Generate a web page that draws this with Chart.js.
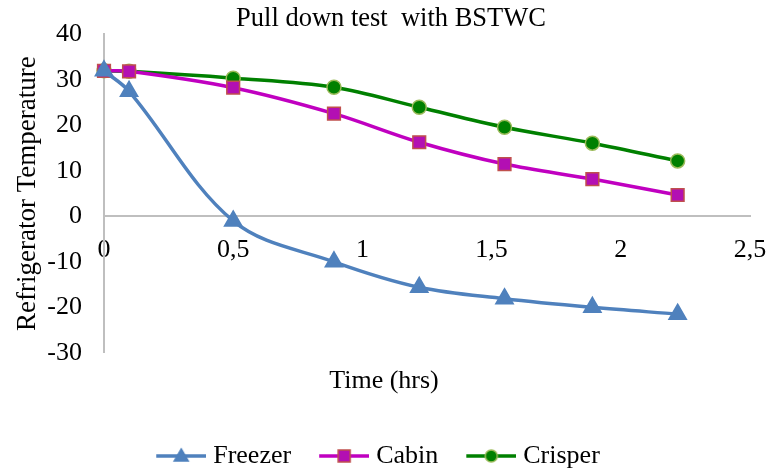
<!DOCTYPE html>
<html>
<head>
<meta charset="utf-8">
<script src="https://cdn.jsdelivr.net/npm/chart.js@4.4.0/dist/chart.umd.min.js"></script>
<style>
  html, body { margin: 0; padding: 0; background: #fff; }
  #wrap { width: 769px; height: 472px; }
</style>
</head>
<body>
<div id="wrap"><canvas id="myChart" width="769" height="472"></canvas></div>
<script>
  // time in hours, temperatures in deg C
  const timeHrs = [0, 0.097, 0.5, 0.89, 1.22, 1.55, 1.89, 2.22];
  const freezer = [32, 27.5, -1, -10, -15.6, -18.1, -20, -21.5];
  const cabin = [32, 31.9, 28.3, 22.6, 16.3, 11.5, 8.2, 4.7];
  const crisper = [32, 31.9, 30.4, 28.4, 24, 19.6, 16.1, 12.2];
  const xTickLabels = ["0", "0,5", "1", "1,5", "2", "2,5"];

  const FONT = "'Liberation Serif', 'Times New Roman', serif";
  Chart.defaults.font.family = FONT;
  Chart.defaults.font.size = 26;
  Chart.defaults.color = "#000";

  function pts(arr) {
    return arr.map((v, i) => ({ x: timeHrs[i], y: v }));
  }

  // line + marker picture for the legend (blank on the left so the text sits close)
  function legendIcon(color, fill, border, shape) {
    var c = document.createElement("canvas");
    c.width = 74;
    c.height = 20;
    var g = c.getContext("2d");
    g.strokeStyle = color;
    g.lineWidth = 3.5;
    g.beginPath();
    g.moveTo(24, 10);
    g.lineTo(74, 10);
    g.stroke();
    g.fillStyle = fill;
    g.strokeStyle = border;
    g.lineWidth = 1.5;
    g.beginPath();
    if (shape == "triangle") {
      g.moveTo(49, 3);
      g.lineTo(56, 15);
      g.lineTo(42, 15);
      g.closePath();
    } else if (shape == "rect") {
      g.rect(43, 4, 12, 12);
    } else {
      g.arc(49, 10, 6, 0, Math.PI * 2);
    }
    g.fill();
    g.stroke();
    return c;
  }

  const icons = [
    legendIcon("#4f81bd", "#4f81bd", "#4f81bd", "triangle"),
    legendIcon("#c000c0", "#b30fb3", "#c0504d", "rect"),
    legendIcon("#008000", "#008000", "#9bbb59", "circle"),
  ];

  function shiftBox(box, dx, dy) {
    box.left += dx;
    box.right += dx;
    box.top += dy;
    box.bottom += dy;
  }

  // small nudges of title / subtitle / legend after layout
  const nudgeBoxes = {
    id: "nudgeBoxes",
    afterLayout: function (chart) {
      shiftBox(chart.legend, -6, 7);
      shiftBox(chart.titleBlock, 16, 0);
      var subs = chart.boxes.filter(function (b) {
        return b.options && b.options.text == "Time (hrs)";
      });
      if (subs.length) shiftBox(subs[0], 9, 0);
    },
  };

  var ctx = document.getElementById("myChart").getContext("2d");
  var chart = new Chart(ctx, {
    type: "line",
    plugins: [nudgeBoxes],
    data: {
      datasets: [
        {
          label: "Freezer",
          data: pts(freezer),
          borderColor: "#4f81bd",
          backgroundColor: "#4f81bd",
          pointBackgroundColor: "#4f81bd",
          pointBorderColor: "#4f81bd",
          pointStyle: "triangle",
          pointRadius: 8,
          borderWidth: 3.5,
          tension: 0.35,
          clip: false,
        },
        {
          label: "Cabin",
          data: pts(cabin),
          borderColor: "#c000c0",
          backgroundColor: "#c000c0",
          pointBackgroundColor: "#b30fb3",
          pointBorderColor: "#c0504d",
          pointBorderWidth: 1.5,
          pointStyle: "rect",
          pointRadius: 9,
          borderWidth: 3.5,
          tension: 0.35,
          clip: false,
        },
        {
          label: "Crisper",
          data: pts(crisper),
          borderColor: "#008000",
          backgroundColor: "#008000",
          pointBackgroundColor: "#008000",
          pointBorderColor: "#9bbb59",
          pointBorderWidth: 1.5,
          pointStyle: "circle",
          pointRadius: 7,
          borderWidth: 3.5,
          tension: 0.35,
          clip: false,
        },
      ],
    },
    options: {
      responsive: false,
      animation: false,
      layout: { padding: { left: 0, right: 19, top: 0, bottom: 0 } },
      scales: {
        x: {
          type: "linear",
          min: 0,
          max: 2.5,
          position: { y: 0 },
          grid: { display: false },
          border: { display: true, color: "#bfbfbf", width: 2 },
          ticks: {
            stepSize: 0.5,
            padding: 10,
            maxRotation: 0,
            callback: function (v, i) {
              return xTickLabels[i];
            },
          },
          afterFit: function (scale) {
            scale.paddingRight = 10;
          },
        },
        y: {
          min: -30,
          max: 40,
          grid: { display: false },
          border: { display: true, color: "#bfbfbf", width: 2 },
          ticks: { stepSize: 10, padding: 14 },
          title: {
            display: true,
            text: "Refrigerator Temperature",
            font: { size: 27 },
            padding: { top: 12, bottom: 0 },
          },
          afterFit: function (scale) {
            scale.width = 104;
          },
        },
      },
      plugins: {
        title: {
          display: true,
          text: "Pull down test  with BSTWC",
          font: { size: 26.5, weight: "normal", lineHeight: 1.15 },
          padding: { top: 4, bottom: 0 },
        },
        subtitle: {
          display: true,
          position: "bottom",
          text: "Time (hrs)",
          font: { size: 26, weight: "normal", lineHeight: 1.2 },
          padding: { top: 13, bottom: 29 },
        },
        legend: {
          position: "bottom",
          weight: 3000,
          labels: {
            usePointStyle: true,
            pointStyleWidth: 62,
            padding: 10,
            generateLabels: function (chart) {
              return chart.data.datasets.map(function (ds, i) {
                return {
                  text: ds.label,
                  pointStyle: icons[i],
                  fillStyle: ds.borderColor,
                  strokeStyle: ds.borderColor,
                  lineWidth: 0,
                  datasetIndex: i,
                  hidden: false,
                };
              });
            },
          },
        },
        tooltip: { enabled: false },
      },
    },
  });
</script>
</body>
</html>
